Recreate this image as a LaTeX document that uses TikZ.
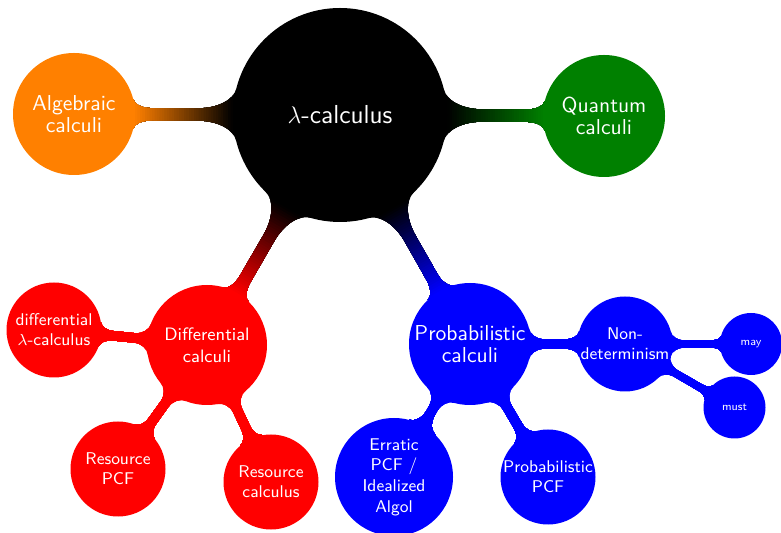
\documentclass[tikz,border=0pt]{standalone}
\usetikzlibrary{calc,backgrounds}
\definecolor{qgreen}{rgb}{0,0.5,0}
\definecolor{aorange}{rgb}{1,0.5,0}
% #1 parent node, #2 child node, #3 parent colour, #4 child colour,
% #5 half width (pt), #6 flare angle, #7 flare length factor (parent), #8 (child)
\newcommand{\conbar}[8]{%
\pgfmathsetmacro\cbh{#5}%
\path let \p1=($(#2.center)-(#1.center)$), \p2=($(#1.east)-(#1.center)$),
          \p3=($(#2.east)-(#2.center)$), \n1={atan2(\y1,\x1)}, \n2={veclen(\x1,\y1)},
          \n3={\x2}, \n4={\x3}
  in \pgfextra{\xdef\cbang{\n1}\xdef\cbd{\n2}\xdef\cbra{\n3}\xdef\cbrb{\n4}};%
\pgfmathsetmacro\cbang{\cbang}%
\pgfmathsetmacro\cbd{\cbd}%
\pgfmathsetmacro\cbra{\cbra}%
\pgfmathsetmacro\cbrb{\cbrb}%
\pgfmathsetmacro\paX{\cbra*cos(#6)}%
\pgfmathsetmacro\paY{\cbra*sin(#6)}%
\pgfmathsetmacro\qaX{\paX+#7*\cbra}%
\pgfmathsetmacro\pbX{\cbd-\cbrb*cos(#6)}%
\pgfmathsetmacro\pbY{\cbrb*sin(#6)}%
\pgfmathsetmacro\qbX{\pbX-#8*\cbrb}%
\pgfmathsetmacro\caX{\paX+0.55*(\paY-\cbh)*sin(#6)}%
\pgfmathsetmacro\caY{\paY-0.55*(\paY-\cbh)*cos(#6)}%
\pgfmathsetmacro\daX{\qaX-0.55*(\qaX-\paX)}%
\pgfmathsetmacro\cbX{\pbX-0.55*(\pbY-\cbh)*sin(#6)}%
\pgfmathsetmacro\cbY{\pbY-0.55*(\pbY-\cbh)*cos(#6)}%
\pgfmathsetmacro\dbX{\qbX+0.55*(\pbX-\qbX)}%
\pgfmathsetmacro\eA{\cbra}%
\pgfmathsetmacro\eB{\cbd-\cbrb}%
\pgfmathsetmacro\eE{\cbd+100}%
\begin{scope}[shift={(#1.center)}, rotate=\cbang]
 \clip (0pt,0pt) -- (\paX pt,\paY pt) .. controls (\caX pt,\caY pt) and (\daX pt,\cbh pt) .. (\qaX pt,\cbh pt)
   -- (\qbX pt,\cbh pt) .. controls (\dbX pt,\cbh pt) and (\cbX pt,\cbY pt) .. (\pbX pt,\pbY pt)
   -- (\cbd pt,0pt) -- (\pbX pt,-\pbY pt) .. controls (\cbX pt,-\cbY pt) and (\dbX pt,-\cbh pt) .. (\qbX pt,-\cbh pt)
   -- (\qaX pt,-\cbh pt) .. controls (\daX pt,-\cbh pt) and (\caX pt,-\caY pt) .. (\paX pt,-\paY pt) -- cycle;
 \fill[#3] (-10pt,-100pt) rectangle (\eE pt,100pt);
 \foreach \i in {0,...,39}{%
   \pgfmathsetmacro\xs{\eA+(\i/40)*(\eB-\eA)}%
   \pgfmathtruncatemacro\pc{(\i+0.5)*2.5}%
   \fill[#4!\pc!#3] (\xs pt,-100pt) rectangle (\eE pt,100pt);}
 \fill[#4] (\eB pt,-100pt) rectangle (\eE pt,100pt);
\end{scope}}
\begin{document}
\begin{tikzpicture}[x=0.5pt,y=-0.5pt,
  cpt/.style={circle, fill=#1, text=white, inner sep=0pt, outer sep=0pt, align=center},
  lvlroot/.style={minimum size=107pt, font=\sffamily\fontsize{13}{15}\selectfont},
  lvlone/.style={minimum size=61pt, font=\sffamily\fontsize{10.8}{11}\selectfont},
  lvlonesmall/.style={minimum size=60pt, font=\sffamily\fontsize{9}{11}\selectfont},
  lvltwo/.style={minimum size=47.5pt, font=\sffamily\fontsize{8.5}{10}\selectfont},
  lvltwobig/.style={minimum size=59pt, font=\sffamily\fontsize{8.5}{10.3}\selectfont},
  lvlthree/.style={minimum size=31pt, font=\sffamily\fontsize{5.7}{7}\selectfont}
]
\useasboundingbox (0,0) rectangle (781,533);
\node[cpt=black, lvlroot] (root) at (340,115) {$\lambda$-calculus};
\node[cpt=aorange, lvlone] (alg) at (74,114) {Algebraic\\calculi};
\node[cpt=qgreen, lvlone] (qua) at (604,116) {Quantum\\calculi};
\node[cpt=red, lvlonesmall] (dif) at (207,345) {Differential\\calculi};
\node[cpt=blue, lvlone] (pro) at (470,344) {Probabilistic\\calculi};
\node[cpt=red, lvltwo] (dlam) at (54,330) {differential\\$\lambda$-calculus};
\node[cpt=red, lvltwo] (rpcf) at (118,469) {Resource\\PCF};
\node[cpt=red, lvltwo] (rcal) at (271,482) {Resource\\calculus};
\node[cpt=blue, lvltwobig] (err) at (394,477) {Erratic\\PCF /\\Idealized\\Algol};
\node[cpt=blue, lvltwo] (ppcf) at (548,477) {Probabilistic\\PCF};
\node[cpt=blue, lvltwo] (nondet) at (625,344) {Non-\\determinism};
\node[cpt=blue, lvlthree] (may) at (751,344) {may};
\node[cpt=blue, lvlthree] (must) at (734.5,407.5) {must};
\begin{pgfonlayer}{background}
\conbar{root}{alg}{black}{aorange}{3.1}{14}{0.36}{0.3}
\conbar{root}{qua}{black}{qgreen}{3.1}{14}{0.36}{0.3}
\conbar{root}{dif}{black}{red}{3.1}{14}{0.36}{0.3}
\conbar{root}{pro}{black}{blue}{3.1}{14}{0.36}{0.3}
\conbar{dif}{dlam}{red}{red}{2.4}{15}{0.25}{0.28}
\conbar{dif}{rpcf}{red}{red}{2.4}{15}{0.25}{0.28}
\conbar{dif}{rcal}{red}{red}{2.4}{15}{0.25}{0.28}
\conbar{pro}{err}{blue}{blue}{2.4}{15}{0.25}{0.28}
\conbar{pro}{ppcf}{blue}{blue}{2.4}{15}{0.25}{0.28}
\conbar{pro}{nondet}{blue}{blue}{2.4}{15}{0.25}{0.28}
\conbar{nondet}{may}{blue}{blue}{1.85}{15}{0.28}{0.3}
\conbar{nondet}{must}{blue}{blue}{1.85}{15}{0.28}{0.3}
\end{pgfonlayer}
\end{tikzpicture}
\end{document}
